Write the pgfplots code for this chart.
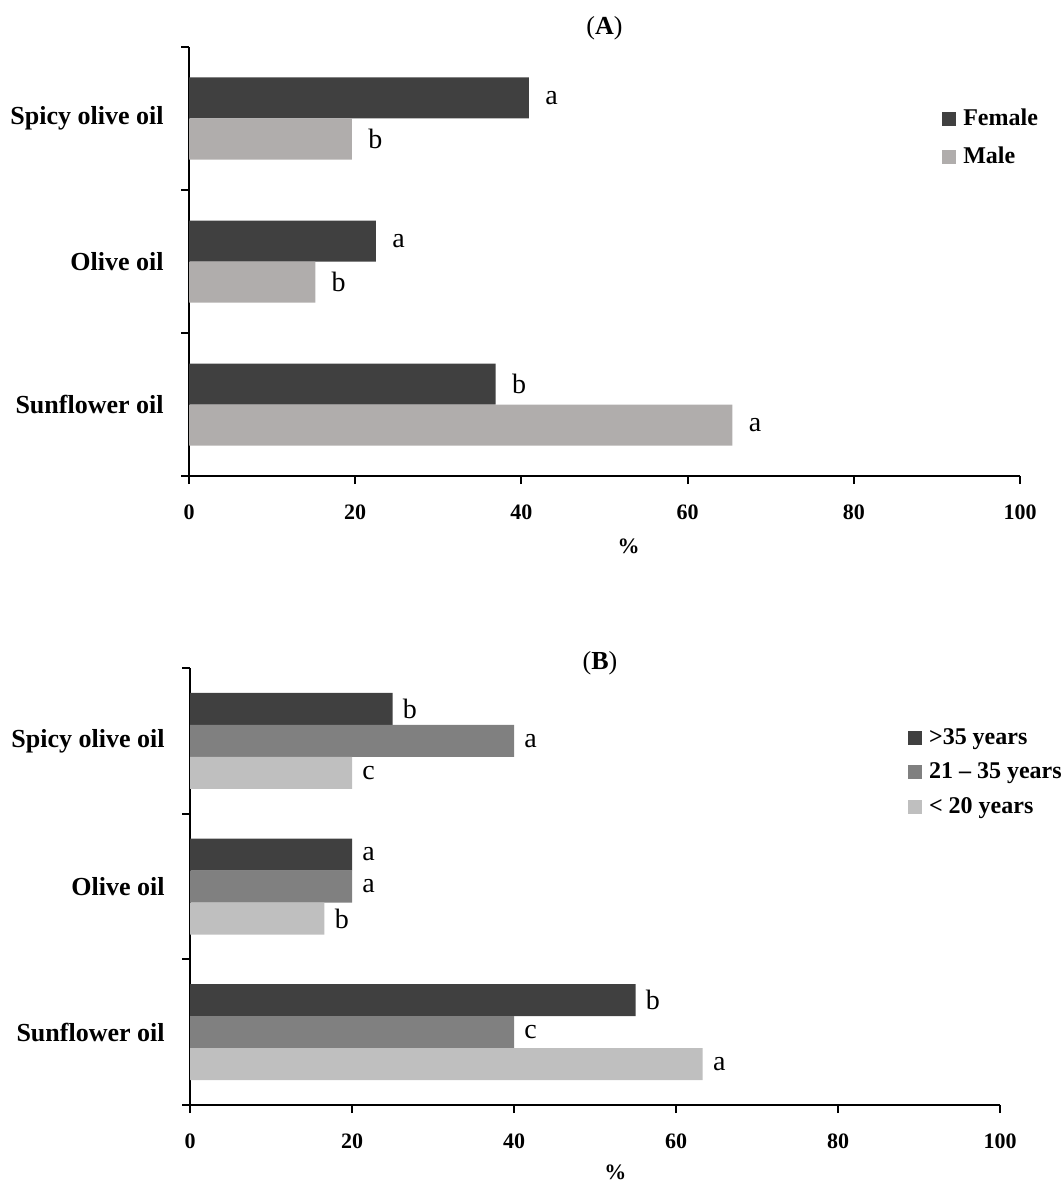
\documentclass[border=0pt]{standalone}
\usepackage{pgfplots}
\pgfplotsset{compat=1.18}
\usepackage{fontspec}
\setmainfont{Liberation Serif}
\definecolor{cdark}{RGB}{64,64,64}
\definecolor{cmale}{RGB}{176,173,172}
\definecolor{cmid}{RGB}{128,128,128}
\definecolor{clight}{RGB}{191,191,191}
\newcommand{\fs}[1]{\fontsize{#1}{#1}\selectfont}
\pgfplotsset{
  oilaxis/.style={
    scale only axis,
    xbar,
    xmin=0, xmax=100,
    ymin=-0.5, ymax=2.5,
    xtick={0,20,40,60,80,100},
    /pgf/number format/assume math mode=true,
    ytick={-0.5,0.5,1.5,2.5},
    yticklabels={},
    extra y ticks={0,1,2},
    extra y tick labels={Sunflower oil,Olive oil,Spicy olive oil},
    extra y tick style={major tick length=0pt},
    axis x line*=bottom,
    axis y line*=left,
    axis line style={line width=1.3pt,-},
    tick style={line width=1pt, black},
    major tick length=4pt,
    tick align=outside,
    xticklabel style={font=\bfseries\fs{11}, anchor=center, yshift=-14pt},
    yticklabel style={font=\bfseries\fs{13}, anchor=east, inner sep=0pt, xshift=-12.5pt},
    xlabel={\%},
    nodes near coords,
    point meta=explicit symbolic,
    every node near coord/.append style={font=\fs{14}, anchor=west, inner sep=0pt, black},
    legend image code/.code={\fill[##1] (0pt,-3.5pt) rectangle (7pt,3.5pt);},
    legend cell align=left,
    legend style={draw=none, fill=none, font=\bfseries\fs{12}, inner sep=0pt, anchor=north west, column sep=1.5pt},
    clip=false,
  },
}
\begin{document}
\begin{tikzpicture}
\path[use as bounding box] (0pt,0pt) rectangle (531.5pt,-591pt);
\node[font=\fs{13}] at (302.25pt,-14pt) {(\textbf{A})};
\node[font=\fs{13}] at (300pt,-331.5pt) {(\textbf{B})};
\begin{axis}[oilaxis, at={(94.5pt,-238pt)}, anchor=south west,
  width=415.5pt, height=214.5pt, bar width=20.5pt,
  xlabel style={font=\bfseries\fs{11}, at={(axis description cs:0.529,0)}, anchor=center, yshift=-35pt},
  every node near coord/.append style={xshift=8pt},
  legend style={at={(0.906,0.865)}, row sep=5pt}]
\addplot[fill=cdark, draw=none, bar shift=10.25pt] coordinates {(40.9,2) [a] (22.5,1) [a] (36.9,0) [b]};
\addplot[fill=cmale, draw=none, bar shift=-10.25pt] coordinates {(19.6,2) [b] (15.2,1) [b] (65.4,0) [a]};
\legend{Female, Male}
\end{axis}
\begin{axis}[oilaxis, at={(95pt,-552.5pt)}, anchor=south west,
  width=405pt, height=218.5pt, bar width=16pt,
  xlabel style={font=\bfseries\fs{11}, at={(axis description cs:0.525,0)}, anchor=center, yshift=-33.5pt},
  every node near coord/.append style={xshift=5pt},
  legend style={at={(0.886,0.872)}, row sep=3.75pt}]
\addplot[fill=cdark, draw=none, bar shift=16pt] coordinates {(25,2) [b] (20,1) [a] (55,0) [b]};
\addplot[fill=cmid, draw=none, bar shift=0pt] coordinates {(40,2) [a] (20,1) [a] (40,0) [c]};
\addplot[fill=clight, draw=none, bar shift=-16pt] coordinates {(20,2) [c] (16.6,1) [b] (63.3,0) [a]};
\legend{\textgreater35 years, 21 -- 35 years, \textless{} 20 years}
\end{axis}
\end{tikzpicture}
\end{document}
